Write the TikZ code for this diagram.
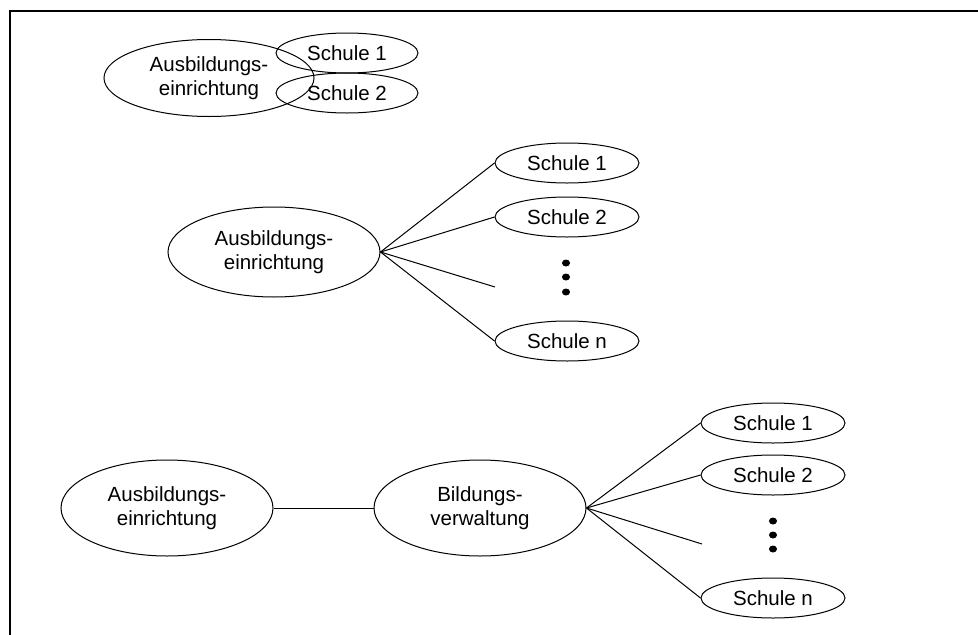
\documentclass[tikz,border=0pt]{standalone}
\usepackage{fontspec}
\setmainfont{Liberation Sans}
\usetikzlibrary{shapes.geometric}
\begin{document}
\begin{tikzpicture}[x=1pt,y=-1pt,
  ell/.style={draw, ellipse, line width=1pt, inner sep=0pt, align=center,
    font=\fontsize{20.5}{24}\selectfont},
  big/.style={ell, minimum width=212, minimum height=90},
  small/.style={ell, minimum width=144, minimum height=40},
  link/.style={line width=1pt},
  dot/.style={fill=black}]
  \useasboundingbox (0,0) rectangle (978,635);
  % frame: top and left edges
  \draw[line width=2pt] (978,11) -- (10,11) -- (10,635);

  % overlapping variant
  \node[big, minimum width=210, minimum height=77] (a1) at (209,78) {Ausbildungs-\\einrichtung};
  \node[small, minimum width=142] (t1) at (347,53) {Schule 1};
  \node[small, minimum width=142] (t2) at (347,93) {Schule 2};

  % direct variant
  \node[big] (a2) at (274,252) {Ausbildungs-\\einrichtung};
  \node[small] (m1) at (567,163) {Schule 1};
  \node[small] (m2) at (567,217) {Schule 2};
  \node[small] (mn) at (567,341) {Schule n};
  \coordinate (m3) at (495,287);
  \draw[link] (a2.east) -- (m1.west);
  \draw[link] (a2.east) -- (m2.west);
  \draw[link] (a2.east) -- (m3);
  \draw[link] (a2.east) -- (mn.west);
  \foreach \y in {263,277,292} \fill[dot] (566,\y) ellipse (4 and 3.5);

  % variant via administration
  \node[big, minimum height=96] (a3) at (167,508) {Ausbildungs-\\einrichtung};
  \node[big, minimum height=96] (bv) at (480,508) {Bildungs-\\verwaltung};
  \node[small] (b1) at (773,423) {Schule 1};
  \node[small] (b2) at (773,475) {Schule 2};
  \node[small] (bn) at (773,598) {Schule n};
  \coordinate (b3) at (702,544);
  \draw[link] (a3.east) -- (bv.west);
  \draw[link] (bv.east) -- (b1.west);
  \draw[link] (bv.east) -- (b2.west);
  \draw[link] (bv.east) -- (b3);
  \draw[link] (bv.east) -- (bn.west);
  \foreach \y in {521,535,549} \fill[dot] (773,\y) ellipse (4 and 3.5);
\end{tikzpicture}
\end{document}
